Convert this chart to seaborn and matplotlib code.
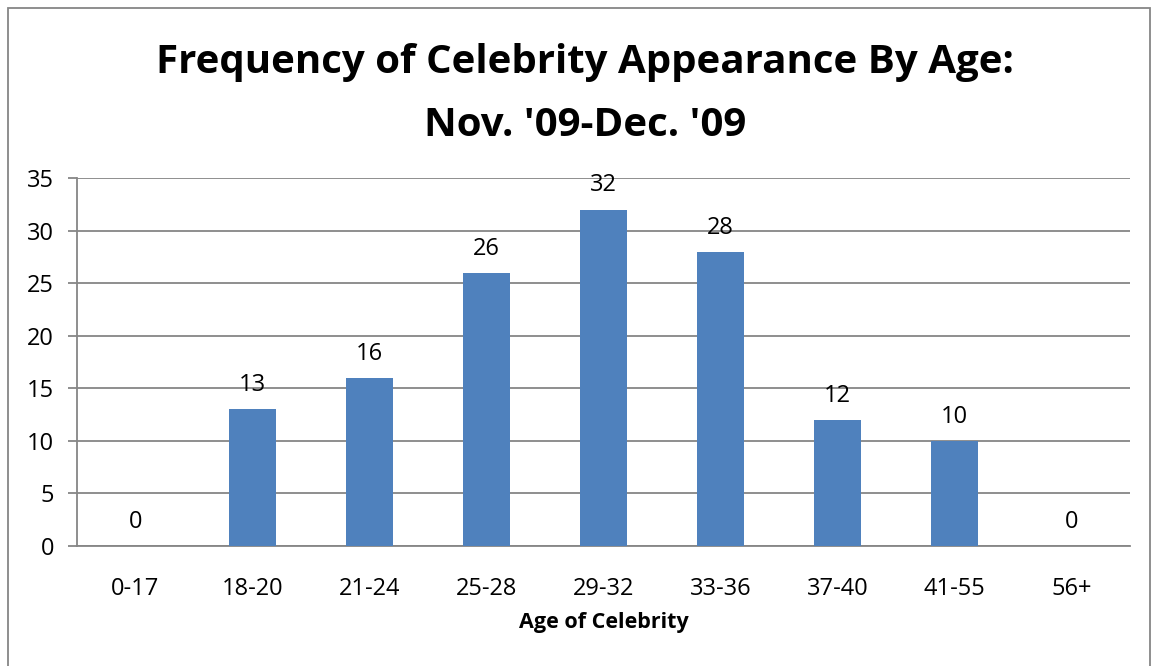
import matplotlib
matplotlib.use("Agg")
import matplotlib.pyplot as plt
import seaborn as sns
import pandas as pd
from matplotlib.patches import Rectangle

categories = ["0-17", "18-20", "21-24", "25-28", "29-32", "33-36", "37-40", "41-55", "56+"]
counts = [0, 13, 16, 26, 32, 28, 12, 10, 0]
yticks = [0, 5, 10, 15, 20, 25, 30, 35]

sns.set_theme(style="white")
plt.rcParams['font.family'] = ['Open Sans', 'DejaVu Sans']
plt.rcParams['text.color'] = 'black'
plt.rcParams['axes.labelcolor'] = 'black'
plt.rcParams['xtick.labelcolor'] = 'black'
plt.rcParams['ytick.labelcolor'] = 'black'

df = pd.DataFrame({"age": categories, "count": counts})

fig = plt.figure(figsize=(11.53, 6.66), dpi=100)
ax = fig.add_axes([77/1153, 1-546/666, (1130-77)/1153, (546-178)/666])

sns.barplot(data=df, x="age", y="count", color="#4F81BD", width=0.4,
            saturation=1, ax=ax, zorder=3, linewidth=0)

ax.set_ylim(0, 35)
ax.set_xlim(-0.5, len(categories) - 0.5)
ax.set_yticks(yticks)
ax.set_yticklabels([str(v) for v in yticks], fontsize=17)
ax.yaxis.grid(True, color="#868686", linewidth=1.3, zorder=0)
ax.set_axisbelow(True)

# category ticks between bars
ax.set_xticks(range(len(categories)))
ax.set_xticklabels(categories, fontsize=17)
ax.tick_params(axis="x", which="major", length=0, pad=22)
ax.set_xticks([i - 0.5 for i in range(len(categories) + 1)], minor=True)
ax.tick_params(axis="x", which="minor", length=7, width=1.3, color="#868686", direction="out")
ax.tick_params(axis="y", length=6.5, width=1.3, color="#868686", direction="out", pad=10, left=True)

for s in ["top", "right"]:
    ax.spines[s].set_visible(False)
for s in ["left", "bottom"]:
    ax.spines[s].set_color("#868686")
    ax.spines[s].set_linewidth(1.3)

for i, v in enumerate(counts):
    ax.annotate(str(v), (i, v), xytext=(0, 13), textcoords="offset points",
                ha="center", va="baseline", fontsize=17, color="black")

ax.set_xlabel("Age of Celebrity", fontsize=15.5, fontweight="bold", labelpad=8, color="black")
ax.set_ylabel("")

fig.text(585/1153, 1-94/666, "Frequency of Celebrity Appearance By Age:\nNov. '09-Dec. '09",
         ha="center", va="center", fontsize=29, fontweight="bold", linespacing=1.78,
         color="black")

fig.patches.append(Rectangle((8/1153, -0.05), (1150-8)/1153, (1-8/666) + 0.05,
                             transform=fig.transFigure, fill=False,
                             edgecolor="#868686", linewidth=1.3))

fig.savefig("out.png", dpi=100)
